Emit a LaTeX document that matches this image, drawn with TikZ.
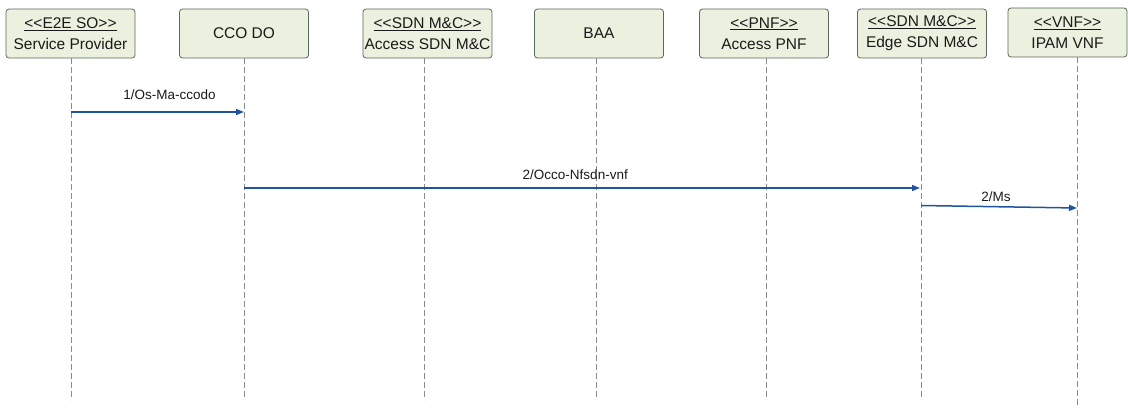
\documentclass[tikz,border=0pt]{standalone}
\usepackage{fontspec}
\setmainfont{Liberation Sans}
\usetikzlibrary{arrows.meta}
\definecolor{boxfill}{HTML}{EBF1DE}
\definecolor{boxdraw}{HTML}{56695A}
\definecolor{msgblue}{HTML}{1F55A0}
\definecolor{lifegray}{HTML}{8A8A8A}
\definecolor{txt}{HTML}{1A1A1A}
\tikzset{
  actor/.style={draw=boxdraw, fill=boxfill, rounded corners=3pt, line width=0.8pt,
    minimum width=129pt, minimum height=49pt, inner sep=0pt, align=center,
    text=txt, font=\fontsize{15.5}{21}\selectfont},
  lifeline/.style={draw=lifegray, line width=0.9pt, dash pattern=on 6pt off 3pt},
  msg/.style={draw=msgblue, line width=1.5pt, -{Triangle[length=8pt,width=6pt]}},
  msglabel/.style={anchor=base, inner sep=0pt, text=txt, font=\fontsize{13.5}{16}\selectfont}
}
\begin{document}
\begin{tikzpicture}[x=1pt,y=-1pt]
\useasboundingbox (0,0) rectangle (1128,408);
% actors
\node[actor] (sp)   at (70.5,33.5) {\underline{<{}<E2E SO>{}>}\\Service Provider};
\node[actor] (cco)  at (244,33.5)  {CCO DO};
\node[actor] (asdn) at (427.5,33.5) {\underline{<{}<SDN M\&C>{}>}\\Access SDN M\&C};
\node[actor] (baa)  at (599,33.5)  {BAA};
\node[actor] (apnf) at (764,33.5)  {\underline{<{}<PNF>{}>}\\Access PNF};
\node[actor] (esdn) at (922,33.5)  {\underline{<{}<SDN M\&C>{}>}\\Edge SDN M\&C};
\node[actor, minimum width=119pt] (ipam) at (1067.5,32.5) {\underline{<{}<VNF>{}>}\\IPAM VNF};
% lifeline ends
\coordinate (sp1) at (71,58);   \coordinate (sp2) at (71,400);
\coordinate (cc1) at (244,58);  \coordinate (cc2) at (244,400);
\coordinate (as1) at (424,58);  \coordinate (as2) at (424,400);
\coordinate (ba1) at (596,58);  \coordinate (ba2) at (596,400);
\coordinate (ap1) at (766,58);  \coordinate (ap2) at (766,400);
\coordinate (es1) at (921,58);  \coordinate (es2) at (921,400);
\coordinate (ip1) at (1077,57); \coordinate (ip2) at (1077,407);
\foreach \a/\b in {sp1/sp2,cc1/cc2,as1/as2,ba1/ba2,ap1/ap2,es1/es2,ip1/ip2}
  \draw[lifeline] (\a) -- (\b);
% message points
\coordinate (m1s) at (71,112);  \coordinate (m1e) at (244,112);
\coordinate (m2s) at (244,188); \coordinate (m2e) at (920,188);
\coordinate (m3s) at (921,205.5); \coordinate (m3e) at (1077,208);
\draw[msg] (m1s) -- node[msglabel, pos=0.57, yshift=13pt] (l1) {1/Os-Ma-ccodo} (m1e);
\draw[msg] (m2s) -- node[msglabel, pos=0.49, yshift=9pt] (l2) {2/Occo-Nfsdn-vnf} (m2e);
\draw[msg] (m3s) -- node[msglabel, pos=0.48, yshift=5pt] (l3) {2/Ms} (m3e);
\end{tikzpicture}
\end{document}
